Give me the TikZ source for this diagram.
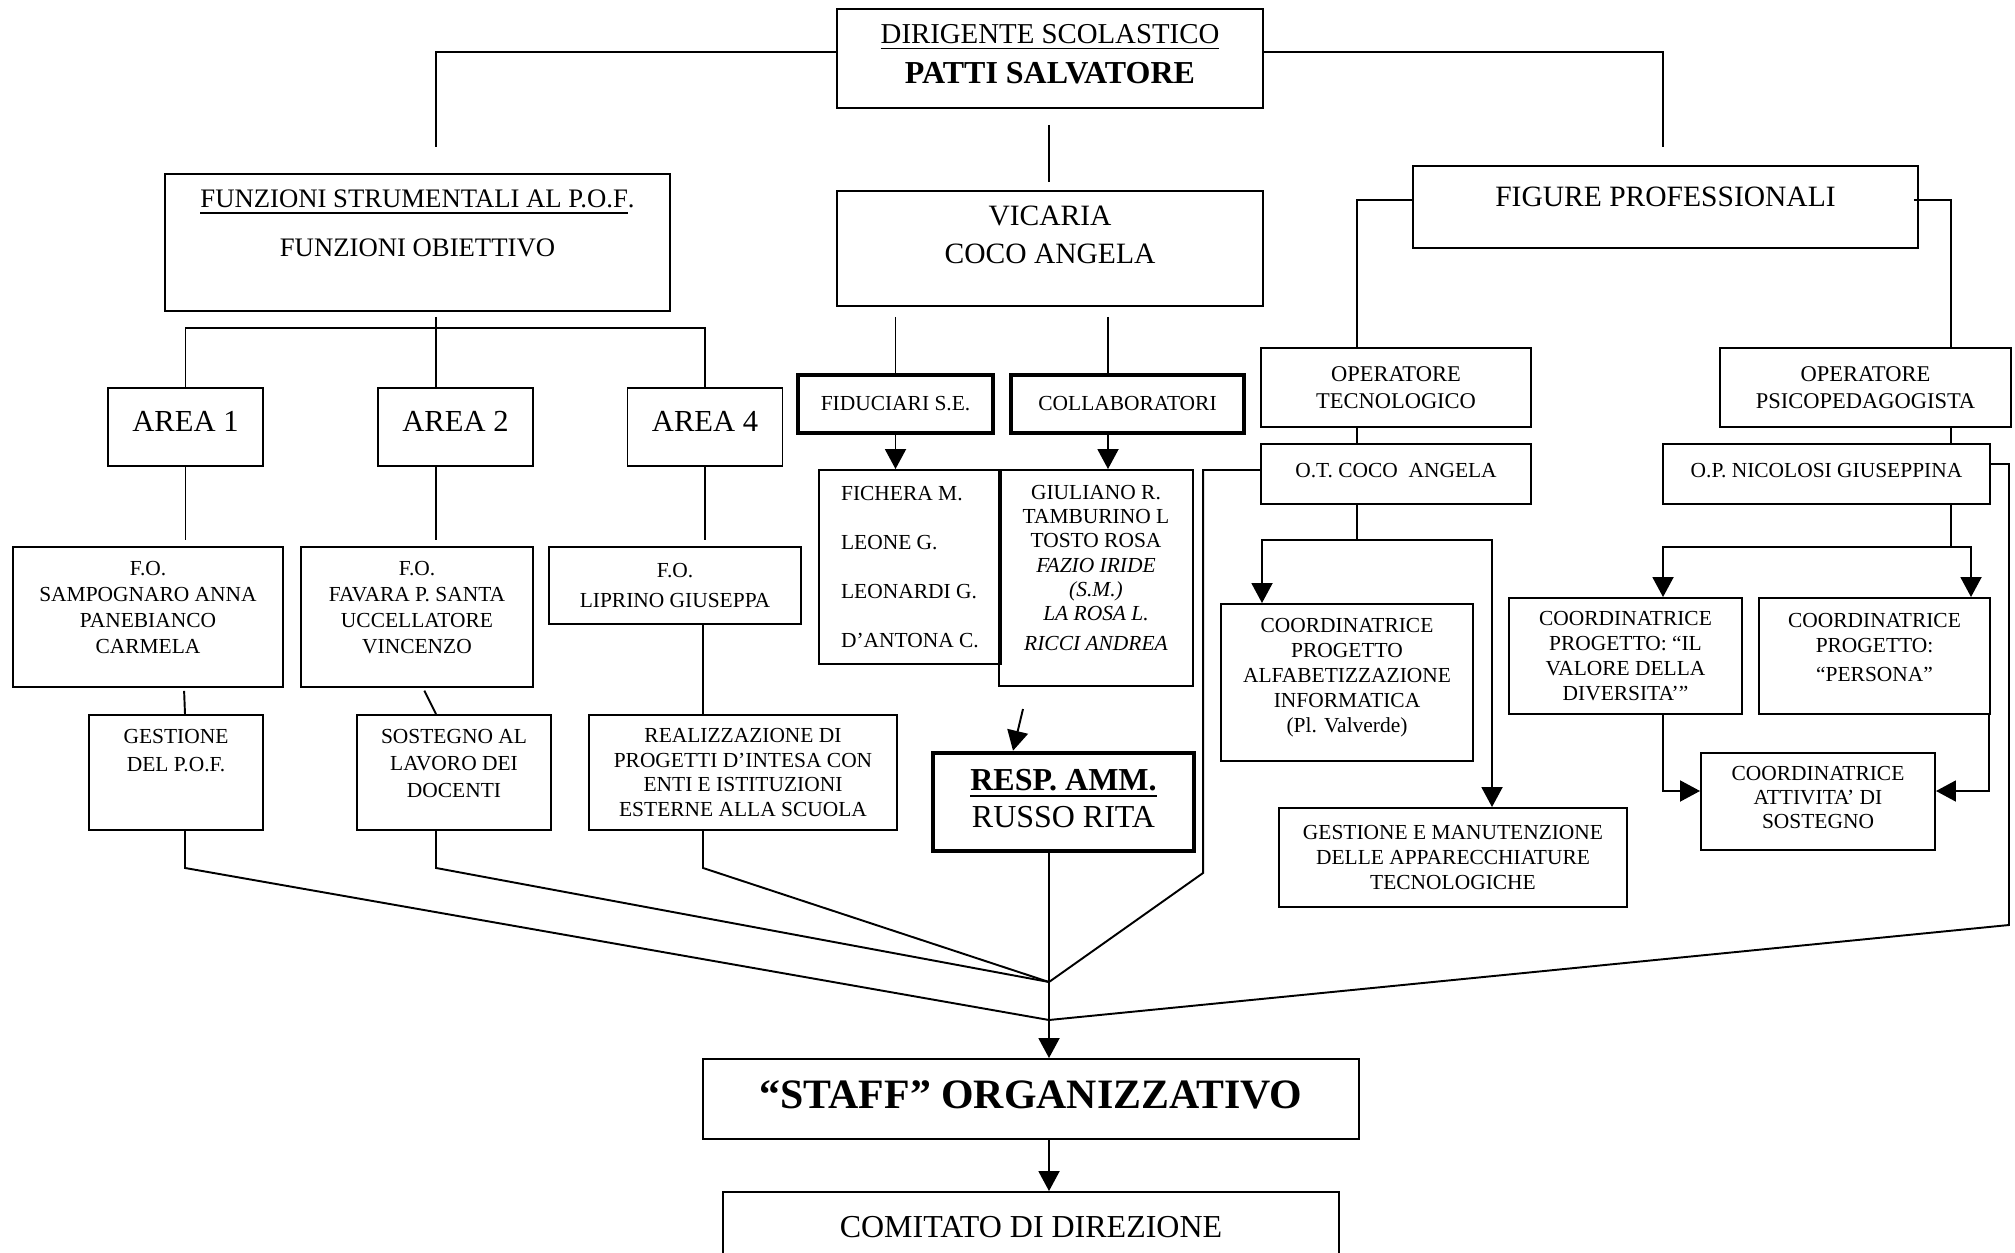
\documentclass[tikz,border=0pt]{standalone}
\usepackage{fontspec}
\setmainfont{Liberation Serif}
\usetikzlibrary{arrows.meta}
\newcommand{\lowpad}[1]{\rule[-#1]{0pt}{0pt}}
\tikzset{
  box/.style={rectangle,draw,line width=0.55pt,inner sep=0pt,align=center,
              font=\fontsize{6.1}{7.1}\selectfont},
  thickbox/.style={box,line width=1.3pt},
  areabox/.style={box,font=\fontsize{8.7}{10}\selectfont,
                  minimum width=15.5mm,minimum height=7.8mm},
  wire/.style={line width=0.55pt},
  wirearr/.style={wire,-{Triangle[length=2mm,width=2.1mm]}},
}
\begin{document}
\begin{tikzpicture}
\useasboundingbox (0,0) rectangle (20.15,-12.53);
\node[box,font=\fontsize{8.2}{11.4}\selectfont,minimum width=42.6mm,minimum height=9.9mm] (dir) at (10.50,-0.585)
  {\underline{DIRIGENTE SCOLASTICO}\\{\fontsize{9.1}{11.4}\selectfont\bfseries PATTI SALVATORE}\lowpad{0.9mm}};
\node[box,font=\fontsize{7.6}{14}\selectfont,minimum width=50.5mm,minimum height=13.7mm] (funz) at (4.175,-2.425)
  {\underline{FUNZIONI STRUMENTALI AL P.O.F}.\\FUNZIONI OBIETTIVO\lowpad{3.8mm}};
\node[box,font=\fontsize{8.4}{10.8}\selectfont,minimum width=42.6mm,minimum height=11.5mm] (vic) at (10.50,-2.485)
  {VICARIA\\COCO ANGELA\lowpad{2.7mm}};
\node[box,font=\fontsize{8.4}{10}\selectfont,minimum width=50.5mm,minimum height=8.2mm] (fig) at (16.655,-2.07)
  {FIGURE PROFESSIONALI\lowpad{2mm}};
\node[areabox] (area1) at (1.855,-4.27) {AREA 1\lowpad{1.2mm}};
\node[areabox] (area2) at (4.555,-4.27) {AREA 2\lowpad{1.2mm}};
\node[areabox] (area4) at (7.05,-4.27) {AREA 4\lowpad{1.2mm}};
\node[box,font=\fontsize{6.1}{7.4}\selectfont,minimum width=27mm,minimum height=14mm] (fo1) at (1.48,-6.17)
  {F.O.\\SAMPOGNARO ANNA\\PANEBIANCO\\CARMELA\lowpad{1.9mm}};
\node[box,font=\fontsize{6.1}{7.4}\selectfont,minimum width=23.2mm,minimum height=14mm] (fo2) at (4.17,-6.17)
  {F.O.\\FAVARA P. SANTA\\UCCELLATORE\\VINCENZO\lowpad{1.9mm}};
\node[box,font=\fontsize{6.1}{8.5}\selectfont,minimum width=25.2mm,minimum height=7.7mm] (fo4) at (6.75,-5.855)
  {F.O.\\LIPRINO GIUSEPPA};
\node[box,font=\fontsize{6.1}{8}\selectfont,minimum width=17.4mm,minimum height=11.5mm] (gest) at (1.76,-7.725)
  {GESTIONE\\DEL P.O.F.\lowpad{4.4mm}};
\node[box,font=\fontsize{6.1}{7.7}\selectfont,minimum width=19.4mm,minimum height=11.5mm] (sost) at (4.54,-7.725)
  {SOSTEGNO AL\\LAVORO DEI\\DOCENTI\lowpad{1.9mm}};
\node[box,font=\fontsize{6.1}{7}\selectfont,minimum width=30.8mm,minimum height=11.5mm] (real) at (7.43,-7.725)
  {REALIZZAZIONE DI\\PROGETTI D’INTESA CON\\ENTI E ISTITUZIONI\\ESTERNE ALLA SCUOLA};
\node[thickbox,minimum width=19.5mm,minimum height=5.8mm] (fid) at (8.955,-4.04) {FIDUCIARI S.E.};
\node[thickbox,minimum width=23.3mm,minimum height=5.8mm] (coll) at (11.275,-4.04) {COLLABORATORI};
\node[box,align=left,font=\fontsize{6.1}{14}\selectfont,minimum width=18.2mm,minimum height=19.4mm] (fidnames) at (9.10,-5.67)
  {FICHERA M.\\LEONE G.\\LEONARDI G.\\D’ANTONA C.};
\node[box,font=\fontsize{6.1}{6.9}\selectfont,minimum width=19.4mm,minimum height=21.6mm] (collnames) at (10.96,-5.78)
  {GIULIANO R.\\TAMBURINO L\\TOSTO ROSA\\\textit{FAZIO IRIDE}\\\textit{(S.M.)}\\\textit{LA ROSA L.}\\[1.7pt]\textit{RICCI ANDREA}\lowpad{2mm}};
\node[thickbox,font=\fontsize{9.1}{10.5}\selectfont,minimum width=26.1mm,minimum height=9.8mm] (resp) at (10.635,-8.02)
  {\textbf{\underline{RESP. AMM.}}\\RUSSO RITA\lowpad{0.7mm}};
\node[box,font=\fontsize{6.4}{7.7}\selectfont,minimum width=27mm,minimum height=7.9mm] (otec) at (13.96,-3.875)
  {OPERATORE\\TECNOLOGICO};
\node[box,font=\fontsize{6.4}{7.7}\selectfont,minimum width=29.1mm,minimum height=7.9mm] (opsi) at (18.655,-3.875)
  {OPERATORE\\PSICOPEDAGOGISTA};
\node[box,minimum width=27mm,minimum height=6mm] (otcoco) at (13.96,-4.74) {O.T. COCO~ ANGELA\lowpad{0.8mm}};
\node[box,minimum width=32.7mm,minimum height=6mm] (opnic) at (18.265,-4.74) {O.P. NICOLOSI GIUSEPPINA\lowpad{0.8mm}};
\node[box,minimum width=25.2mm,minimum height=15.7mm] (alfa) at (13.47,-6.825)
  {COORDINATRICE\\PROGETTO\\ALFABETIZZAZIONE\\INFORMATICA\\(Pl. Valverde)\lowpad{1.5mm}};
\node[box,font=\fontsize{6.1}{7}\selectfont,minimum width=34.8mm,minimum height=9.9mm] (manut) at (14.53,-8.575)
  {GESTIONE E MANUTENZIONE\\DELLE APPARECCHIATURE\\TECNOLOGICHE};
\node[box,minimum width=23.3mm,minimum height=11.6mm] (valore) at (16.255,-6.56)
  {COORDINATRICE\\PROGETTO: “IL\\VALORE DELLA\\DIVERSITA’”};
\node[box,minimum width=23.1mm,minimum height=11.6mm] (persona) at (18.745,-6.56)
  {COORDINATRICE\\PROGETTO:\\[0.4mm]“PERSONA”\lowpad{1.8mm}};
\node[box,font=\fontsize{6.1}{6.9}\selectfont,minimum width=23.4mm,minimum height=9.7mm] (attiv) at (18.18,-8.015)
  {COORDINATRICE\\ATTIVITA’ DI\\SOSTEGNO\lowpad{0.8mm}};
\node[box,font=\fontsize{11.9}{12}\selectfont\bfseries,minimum width=65.6mm,minimum height=8mm] (staff) at (10.31,-10.99)
  {“STAFF” ORGANIZZATIVO\lowpad{0.8mm}};
\node[box,font=\fontsize{9.1}{10}\selectfont,minimum width=61.6mm,minimum height=7mm] (comit) at (10.31,-12.27)
  {COMITATO DI DIREZIONE};
\coordinate (fbar) at (4.36,-3.28);
\coordinate (tbar) at (13.57,-5.40);
\coordinate (pbar) at (19.51,-5.47);
\coordinate (rin)  at (10.23,-7.09);
\coordinate (jhi)  at (10.49,-9.82);
\coordinate (jlo)  at (10.49,-10.20);
\draw[wire,shorten >=2.6mm] ([yshift=0.65mm]dir.west) -| (4.36,0 |- funz.north);
\draw[wire,shorten >=1.8mm] ([yshift=0.65mm]dir.east) -| (16.63,0 |- fig.north);
\draw[wire,shorten <=1.6mm,shorten >=0.8mm] (10.49,0 |- dir.south) -- (10.49,0 |- vic.north);
\draw[wire,shorten <=0.5mm] (4.36,0 |- funz.south) -- (4.36,0 |- area2.north);
\draw[wire] (area1.north) |- (fbar) -| (area4.north);
\draw[wire,shorten >=0.6mm] (area1.south) -- (area1.south |- fo1.north);
\draw[wire,shorten >=0.6mm] (4.36,0 |- area2.south) -- (4.36,0 |- fo2.north);
\draw[wire,shorten >=0.6mm] (area4.south) -- (area4.south |- fo4.north);
\draw[wire,shorten <=0.3mm] (1.84,0 |- fo1.south) -- (1.85,0 |- gest.north);
\draw[wire,shorten <=0.3mm] (4.23,0 |- fo2.south) -- (4.36,0 |- sost.north);
\draw[wire] (7.03,0 |- fo4.south) -- (7.03,0 |- real.north);
\draw[wire] (1.85,0 |- gest.south) -- ++(0,-0.37) -- (jlo);
\draw[wire] (4.36,0 |- sost.south) -- ++(0,-0.37) -- (jhi);
\draw[wire] (7.03,0 |- real.south) -- ++(0,-0.37) -- (jhi);
\draw[wire] (jhi |- resp.south) -- (jhi);
\draw[wirearr] (jhi) -- (jhi |- staff.north);
\draw[wirearr] (10.49,0 |- staff.south) -- (10.49,0 |- comit.north);
\draw[wire] ([yshift=0.4mm]otcoco.west) -- ++(-0.57,0) -- ++(0,-4.03) -- (jhi);
\draw[wire] ([yshift=1mm]opnic.east) -- ++(0.18,0) -- ++(0,-4.61) -- (jlo);
\draw[wire,shorten <=1mm] (fid.north |- vic.south) -- (fid.north);
\draw[wire,shorten <=1mm] (11.08,0 |- vic.south) -- (11.08,0 |- coll.north);
\draw[wirearr] (fid.south) -- (fid.south |- fidnames.north);
\draw[wirearr] (11.08,0 |- coll.south) -- (11.08,0 |- collnames.north);
\draw[wirearr] (rin) -- (10.13,0 |- resp.north);
\draw[wire] ([yshift=0.7mm]fig.west) -| (13.57,0 |- otec.north);
\draw[wire] ([xshift=-0.5mm,yshift=0.7mm]fig.east) -| (19.51,0 |- opsi.north);
\draw[wire] (13.57,0 |- otec.south) -- (13.57,0 |- otcoco.north);
\draw[wire] (19.51,0 |- opsi.south) -- (19.51,0 |- opnic.north);
\draw[wire] (13.57,0 |- otcoco.south) -- (tbar);
\draw[wirearr] (tbar) -| (12.62,0 |- alfa.north);
\draw[wirearr] (tbar) -| (14.92,0 |- manut.north);
\draw[wire] (19.51,0 |- opnic.south) -- (pbar);
\draw[wirearr] (pbar) -| (16.63,0 |- valore.north);
\draw[wirearr] (pbar) -| (19.71,0 |- persona.north);
\draw[wirearr] (16.63,0 |- valore.south) |- ([yshift=1.05mm]attiv.west);
\draw[wirearr] (19.89,0 |- persona.south) |- ([yshift=1.05mm]attiv.east);
\end{tikzpicture}
\end{document}
